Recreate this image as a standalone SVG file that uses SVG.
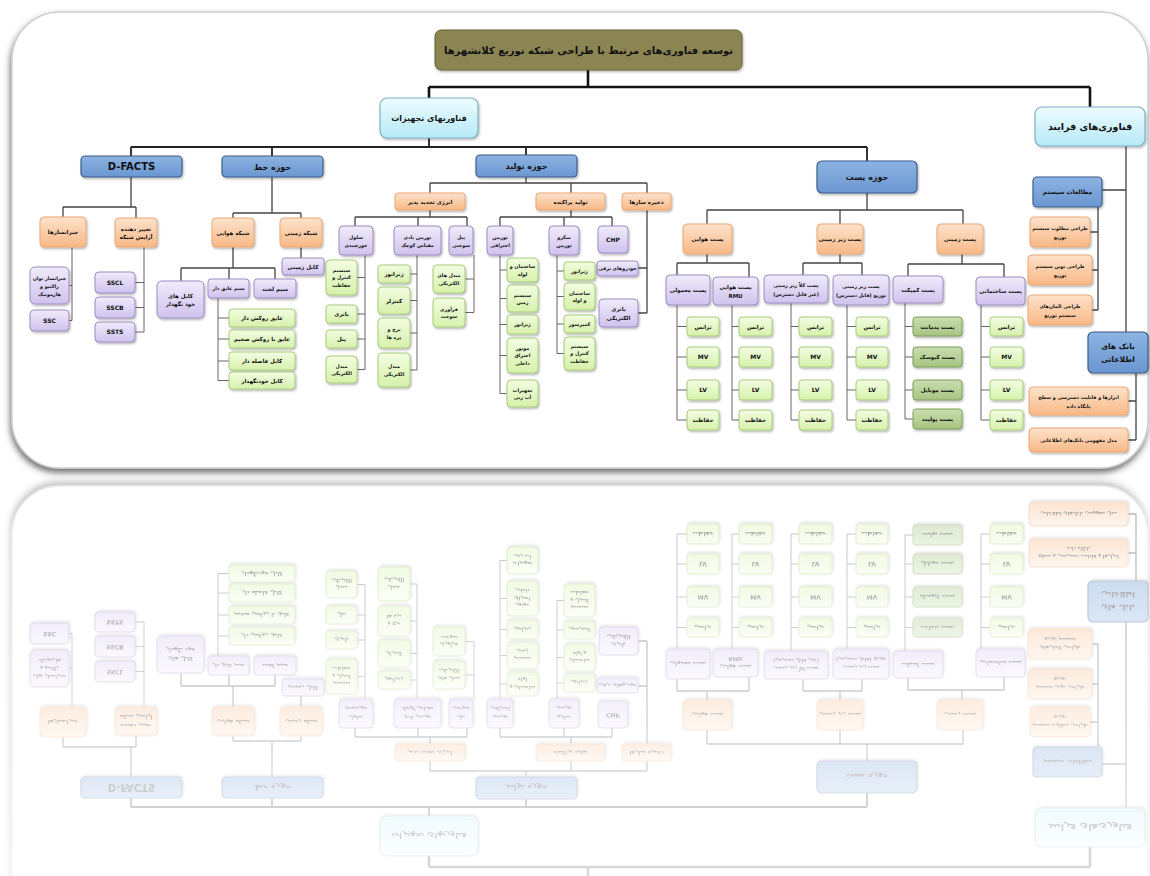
<svg xmlns="http://www.w3.org/2000/svg" xmlns:xlink="http://www.w3.org/1999/xlink" width="1150" height="876" viewBox="0 0 1150 876">
<style>
text{font-family:"DejaVu Sans","Noto Sans",sans-serif;font-weight:bold;text-anchor:middle;fill:#111}
.f13{font-size:10px}.f11{font-size:8px}.f95{font-size:9.5px}.f10{font-size:8px}.fd{font-size:10px}.f8{font-size:7.5px}.f7{font-size:6px}.f6{font-size:5.5px}.f5{font-size:4.8px}
.ti{fill:#8b8452;stroke:#6b6538;stroke-width:1}
.cy{fill:url(#gCy);stroke:#7fb2c4;stroke-width:1.2}
.bl{fill:url(#gBl);stroke:#3d5f8c;stroke-width:1.2}
.or{fill:url(#gOr);stroke:#eba877;stroke-width:1}
.pu{fill:url(#gPu);stroke:#9d8ec4;stroke-width:1}
.gr{fill:url(#gGr);stroke:#a9cd7c;stroke-width:1}
.dg{fill:url(#gDg);stroke:#7f9e5c;stroke-width:1}
.bx{filter:url(#sh)}
.k1{stroke:#111;stroke-width:2.6;fill:none}
.k2{stroke:#222;stroke-width:1.8;fill:none}
.k3{stroke:#444;stroke-width:1.3;fill:none}
.k4{stroke:#666;stroke-width:1;fill:none}
</style>
<defs>
<linearGradient id="gCy" x1="0" y1="0" x2="0" y2="1"><stop offset="0" stop-color="#eefcff"/><stop offset="1" stop-color="#b5e9f6"/></linearGradient>
<linearGradient id="gBl" x1="0" y1="0" x2="0" y2="1"><stop offset="0" stop-color="#8db3e2"/><stop offset="1" stop-color="#6a96d0"/></linearGradient>
<linearGradient id="gOr" x1="0" y1="0" x2="0" y2="1"><stop offset="0" stop-color="#fde2cb"/><stop offset="1" stop-color="#f8b886"/></linearGradient>
<linearGradient id="gPu" x1="0" y1="0" x2="0" y2="1"><stop offset="0" stop-color="#f0ebfb"/><stop offset="1" stop-color="#cfc2ee"/></linearGradient>
<linearGradient id="gGr" x1="0" y1="0" x2="0" y2="1"><stop offset="0" stop-color="#f3fde2"/><stop offset="1" stop-color="#d6f1ab"/></linearGradient>
<linearGradient id="gDg" x1="0" y1="0" x2="0" y2="1"><stop offset="0" stop-color="#c9deb0"/><stop offset="1" stop-color="#a7c481"/></linearGradient>
<linearGradient id="gFade" gradientUnits="userSpaceOnUse" x1="0" y1="480" x2="0" y2="876"><stop offset="0" stop-color="#fff" stop-opacity="0.4"/><stop offset="1" stop-color="#fff" stop-opacity="0.16"/></linearGradient>
<mask id="fade" maskUnits="userSpaceOnUse" x="0" y="470" width="1150" height="406"><rect x="0" y="470" width="1150" height="406" fill="url(#gFade)"/></mask>
<filter id="sh" x="-20%" y="-20%" width="140%" height="150%"><feDropShadow dx="1" dy="1.5" stdDeviation="1" flood-color="#000" flood-opacity="0.3"/></filter>
<filter id="csh" x="-5%" y="-5%" width="110%" height="115%"><feDropShadow dx="-1" dy="4" stdDeviation="3" flood-color="#333" flood-opacity="0.7"/></filter>
</defs>
<rect width="1150" height="876" fill="#fff"/>
<g id="scene">
<rect id="card" x="12" y="12" width="1136" height="456" rx="48" fill="#fff" stroke="#cfcfcf" stroke-width="1.5" filter="url(#csh)"/>
<g id="connectors">
<path class="k1" d="M588,70V87M429,87H1090M429,87V98M1090,87V107"/>
<path class="k2" d="M429,138V147M131,147H867M131,147V156M272,147V156M526,147V155M867,147V161"/>
<path class="k3" d="M1126,146V332M1102,190H1126M1136,373V440M1128,401H1136M1128,440H1136M1098,207V310M1090,232H1098M1092,270H1098M1092,310H1098"/>
<path class="k3" d="M867,193V210M707,210H963M707,210V224M840,210V224M963,210V224M707,254V263M677,263H749M677,263V275M749,263V277M840,254V263M803,263H862M803,263V275M862,263V275M962,254V264M908,264H1004M908,264V276M1004,264V277"/>
<path class="k4" d="M677,305V420M677,326.5H687M677,357H687M677,390H687M677,420H687M732,305V420M732,326.5H739M732,357H739M732,390H739M732,420H739M791,303V420M791,326.5H799M791,357H799M791,390H799M791,420H799M847,305V420M847,326.5H856M847,357H856M847,390H856M847,420H856M905,303V419M905,326.5H913M905,357H913M905,390H913M905,419H913M981,305V420M981,326.5H990M981,357H990M981,390H990M981,420H990"/>
<path class="k3" d="M526,177V183M430,183H647M430,183V193M571,183V193M647,183V193M430,210V217M355,217H467M355,217V226M418,217V226M467,217V226M571,210V217M500,217H612M500,217V226M564,217V226M612,217V226M647,210V313M638,268H647M638,313H647"/>
<path class="k4" d="M365,255V369.5M357,277.5H365M357,314H365M357,339H365M357,369.5H365M417,255V370M410,274H417M410,300.5H417M410,333H417M410,370H417M474,255V312.5M465,279H474M465,312.5H474M500,255V393.5M500,270H507M500,298.5H507M500,324.5H507M500,355.5H507M500,393.5H507M557,255V353.5M557,271H564M557,296.5H564M557,324H564M557,353.5H564"/>
<path class="k3" d="M272,177V213M233,213H301M233,213V218M301,213V218M301,247V258M233,247V268M181,268H275M181,268V281M229,268V279M275,268V279M131,177V207M63,207H136M63,207V217M136,207V218"/>
<path class="k4" d="M218,298V380.5M218,318H229M218,339H229M218,361H229M218,380.5H229M72,247V320.5M69,285.5H72M69,320.5H72M144,247V332M135,282.5H144M135,307.5H144M135,332H144"/>
</g>
<g id="n-title"><rect class="ti bx" x="435" y="30" width="307" height="40" rx="6"/><text class="f13" x="588.5" y="53.5">توسعه فناوری‌های مرتبط با طراحی شبکه توزیع کلانشهرها</text></g>
<g id="n-tajhizat"><rect class="cy bx" x="380" y="98" width="98" height="40" rx="7"/><text class="f11" x="429" y="121">فناوریهای تجهیزات</text></g>
<g id="n-farayand"><rect class="cy bx" x="1035" y="107" width="110" height="39" rx="7"/><text class="f95" x="1090" y="130">فناوری‌های فرایند</text></g>
<g id="n-dfacts"><rect class="bl bx" x="81" y="156" width="101" height="21" rx="4"/><text class="fd" x="131.5" y="170">D-FACTS</text></g>
<g id="n-khat"><rect class="bl bx" x="222" y="156" width="101" height="21" rx="4"/><text class="f10" x="272.5" y="169.5">حوزه خط</text></g>
<g id="n-tolid"><rect class="bl bx" x="476" y="155" width="101" height="22" rx="4"/><text class="f10" x="526.5" y="169">حوزه تولید</text></g>
<g id="n-post"><rect class="bl bx" x="817" y="161" width="100" height="32" rx="5"/><text class="f10" x="867" y="180">حوزه پست</text></g>
<g id="n-motaleat"><rect class="bl bx" x="1033" y="177" width="69" height="30" rx="4"/><text class="f7" x="1067.5" y="194">مطالعات سیستم</text></g>
<g id="n-bank"><rect class="bl bx" x="1088" y="332" width="60" height="41" rx="5"/><text class="f8"><tspan x="1118" y="349">بانک های</tspan><tspan x="1118" y="362">اطلاعاتی</tspan></text></g>
<g id="n-t1"><rect class="or bx" x="1030" y="217" width="60" height="30" rx="4"/><text class="f5"><tspan x="1060" y="230">طراحی مطلوب سیستم</tspan><tspan x="1060" y="238.5">توزیع</tspan></text></g>
<g id="n-t2"><rect class="or bx" x="1028" y="255" width="64" height="30" rx="4"/><text class="f5"><tspan x="1060" y="268">طراحی نوین سیستم</tspan><tspan x="1060" y="276.5">توزیع</tspan></text></g>
<g id="n-t3"><rect class="or bx" x="1028" y="295" width="64" height="30" rx="4"/><text class="f5"><tspan x="1060" y="308">طراحی المان‌های</tspan><tspan x="1060" y="316.5">سیستم توزیع</tspan></text></g>
<g id="n-db1"><rect class="or bx" x="1029" y="387" width="99" height="28" rx="4"/><text class="f5"><tspan x="1078.5" y="399">ابزارها و قابلیت دسترسی و سطح</tspan><tspan x="1078.5" y="407.5">پایگاه داده</tspan></text></g>
<g id="n-db2"><rect class="or bx" x="1029" y="428" width="99" height="24" rx="4"/><text class="f5" x="1078.5" y="441.8">مدل مفهومی بانک‌های اطلاعاتی</text></g>
<g id="n-havaei"><rect class="or bx" x="683" y="224" width="49" height="30" rx="4"/><text class="f6" x="707.5" y="241">پست هوایی</text></g>
<g id="n-zirzamini"><rect class="or bx" x="817" y="224" width="46" height="30" rx="4"/><text class="f6" x="840" y="241">پست زیر زمینی</text></g>
<g id="n-zamini"><rect class="or bx" x="937" y="224" width="46" height="30" rx="4"/><text class="f6" x="960" y="241">پست زمینی</text></g>
<g id="n-energy"><rect class="or bx" x="395" y="193" width="70" height="17" rx="3"/><text class="f6" x="430" y="203.5">انرژی تجدید پذیر</text></g>
<g id="n-parakande"><rect class="or bx" x="536" y="193" width="69" height="17" rx="3"/><text class="f6" x="570.5" y="203.5">تولید پراکنده</text></g>
<g id="n-zakhire"><rect class="or bx" x="622" y="193" width="49" height="17" rx="3"/><text class="f6" x="646.5" y="203.5">ذخیره سازها</text></g>
<g id="n-shhavaei"><rect class="or bx" x="212" y="218" width="42" height="29" rx="4"/><text class="f6" x="233" y="234.5">شبکه هوایی</text></g>
<g id="n-shzamini"><rect class="or bx" x="280" y="218" width="42" height="29" rx="4"/><text class="f6" x="301" y="234.5">شبکه زمینی</text></g>
<g id="n-jobran"><rect class="or bx" x="40" y="217" width="46" height="30" rx="4"/><text class="f6" x="63" y="234">جبرانسازها</text></g>
<g id="n-taghyir"><rect class="or bx" x="115" y="218" width="42" height="29" rx="4"/><text class="f6"><tspan x="136" y="230.5">تغییر دهنده</tspan><tspan x="136" y="239">آرایش شبکه</tspan></text></g>
<g id="n-mamooli"><rect class="pu bx" x="666" y="275" width="44" height="30" rx="4"/><text class="f6" x="688" y="292">پست معمولی</text></g>
<g id="n-rmu"><rect class="pu bx" x="713" y="277" width="45" height="28" rx="4"/><text class="f6"><tspan x="735.5" y="289">پست هوایی</tspan><tspan x="735.5" y="297.5">RMU</tspan></text></g>
<g id="n-kollan"><rect class="pu bx" x="764" y="275" width="64" height="28" rx="4"/><text class="f5"><tspan x="796" y="287">پست کلاً زیر زمینی</tspan><tspan x="796" y="295.5">(غیر قابل دسترس)</tspan></text></g>
<g id="n-tozi"><rect class="pu bx" x="833" y="275" width="56" height="30" rx="4"/><text class="f5"><tspan x="861" y="288">پست زیر زمینی</tspan><tspan x="861" y="296.5">توزیع (قابل دسترس)</tspan></text></g>
<g id="n-compact"><rect class="pu bx" x="893" y="276" width="50" height="27" rx="4"/><text class="f6" x="918" y="291.5">پست کمپکت</text></g>
<g id="n-sakhtemani"><rect class="pu bx" x="976" y="277" width="49" height="28" rx="4"/><text class="f6" x="1000.5" y="293">پست ساختمانی</text></g>
<g id="n-solar"><rect class="pu bx" x="339" y="226" width="34" height="29" rx="4"/><text class="f5"><tspan x="356" y="238.5">سلول</tspan><tspan x="356" y="247">خورشیدی</tspan></text></g>
<g id="n-wind"><rect class="pu bx" x="394" y="226" width="47" height="29" rx="4"/><text class="f5"><tspan x="417.5" y="238.5">توربین بادی</tspan><tspan x="417.5" y="247">مقیاس کوچک</tspan></text></g>
<g id="n-fuel"><rect class="pu bx" x="449" y="226" width="24" height="29" rx="4"/><text class="f5"><tspan x="461" y="238.5">پیل</tspan><tspan x="461" y="247">سوختی</tspan></text></g>
<g id="n-ehtaraghi"><rect class="pu bx" x="487" y="226" width="26" height="29" rx="4"/><text class="f5"><tspan x="500" y="238.5">توربین</tspan><tspan x="500" y="247">احتراقی</tspan></text></g>
<g id="n-micro"><rect class="pu bx" x="549" y="226" width="30" height="29" rx="4"/><text class="f5"><tspan x="564" y="238.5">میکرو</tspan><tspan x="564" y="247">توربین</tspan></text></g>
<g id="n-chp"><rect class="pu bx" x="598" y="226" width="30" height="27" rx="4"/><text class="f7" x="613" y="241.5">CHP</text></g>
<g id="n-khodro"><rect class="pu bx" x="597" y="261" width="41" height="15" rx="3"/><text class="f5" x="617.5" y="270.3">خودروهای برقی</text></g>
<g id="n-battery"><rect class="pu bx" x="599" y="299" width="39" height="28" rx="4"/><text class="f6"><tspan x="618.5" y="311">باتری</tspan><tspan x="618.5" y="319.5">الکتریکی</tspan></text></g>
<g id="n-kabzamini"><rect class="pu bx" x="282" y="258" width="42" height="17" rx="3"/><text class="f6" x="303" y="268.5">کابل زمینی</text></g>
<g id="n-khodnegah"><rect class="pu bx" x="157" y="281" width="47" height="37" rx="5"/><text class="f6"><tspan x="180.5" y="297.5">کابل های</tspan><tspan x="180.5" y="306">خود نگهدار</tspan></text></g>
<g id="n-ayegh"><rect class="pu bx" x="208" y="279" width="41" height="19" rx="3"/><text class="f5" x="228.5" y="290.3">سیم عایق دار</text></g>
<g id="n-lokht"><rect class="pu bx" x="254" y="279" width="42" height="19" rx="3"/><text class="f6" x="275" y="290.5">سیم لخت</text></g>
<g id="n-jtavan"><rect class="pu bx" x="30" y="267" width="39" height="37" rx="5"/><text class="f5"><tspan x="49.5" y="279.5">جبرانساز توان</tspan><tspan x="49.5" y="287.5">راکتیو و</tspan><tspan x="49.5" y="295.5">هارمونیک</tspan></text></g>
<g id="n-ssc"><rect class="pu bx" x="30" y="310" width="39" height="21" rx="4"/><text class="f7" x="49.5" y="322.5">SSC</text></g>
<g id="n-sscl"><rect class="pu bx" x="95" y="272" width="40" height="21" rx="4"/><text class="f7" x="115" y="284.5">SSCL</text></g>
<g id="n-sscb"><rect class="pu bx" x="95" y="297" width="40" height="21" rx="4"/><text class="f7" x="115" y="309.5">SSCB</text></g>
<g id="n-ssts"><rect class="pu bx" x="95" y="322" width="40" height="20" rx="4"/><text class="f7" x="115" y="334">SSTS</text></g>
<g id="n-pa1"><rect class="gr bx" x="687" y="317" width="32" height="19" rx="3"/><text class="f6" x="703" y="328.5">ترانس</text></g>
<g id="n-pa2"><rect class="gr bx" x="687" y="347" width="32" height="20" rx="3"/><text class="f7" x="703" y="359">MV</text></g>
<g id="n-pa3"><rect class="gr bx" x="687" y="380" width="32" height="20" rx="3"/><text class="f7" x="703" y="392">LV</text></g>
<g id="n-pa4"><rect class="gr bx" x="687" y="410" width="32" height="20" rx="3"/><text class="f6" x="703" y="422">حفاظت</text></g>
<g id="n-pb1"><rect class="gr bx" x="739" y="317" width="33" height="19" rx="3"/><text class="f6" x="755.5" y="328.5">ترانس</text></g>
<g id="n-pb2"><rect class="gr bx" x="739" y="347" width="33" height="20" rx="3"/><text class="f7" x="755.5" y="359">MV</text></g>
<g id="n-pb3"><rect class="gr bx" x="739" y="380" width="33" height="20" rx="3"/><text class="f7" x="755.5" y="392">LV</text></g>
<g id="n-pb4"><rect class="gr bx" x="739" y="410" width="33" height="20" rx="3"/><text class="f6" x="755.5" y="422">حفاظت</text></g>
<g id="n-pc1"><rect class="gr bx" x="799" y="317" width="33" height="19" rx="3"/><text class="f6" x="815.5" y="328.5">ترانس</text></g>
<g id="n-pc2"><rect class="gr bx" x="799" y="347" width="33" height="20" rx="3"/><text class="f7" x="815.5" y="359">MV</text></g>
<g id="n-pc3"><rect class="gr bx" x="799" y="380" width="33" height="20" rx="3"/><text class="f7" x="815.5" y="392">LV</text></g>
<g id="n-pc4"><rect class="gr bx" x="799" y="410" width="33" height="20" rx="3"/><text class="f6" x="815.5" y="422">حفاظت</text></g>
<g id="n-pd1"><rect class="gr bx" x="856" y="317" width="32" height="19" rx="3"/><text class="f6" x="872" y="328.5">ترانس</text></g>
<g id="n-pd2"><rect class="gr bx" x="856" y="347" width="32" height="20" rx="3"/><text class="f7" x="872" y="359">MV</text></g>
<g id="n-pd3"><rect class="gr bx" x="856" y="380" width="32" height="20" rx="3"/><text class="f7" x="872" y="392">LV</text></g>
<g id="n-pd4"><rect class="gr bx" x="856" y="410" width="32" height="20" rx="3"/><text class="f6" x="872" y="422">حفاظت</text></g>
<g id="n-pe1"><rect class="dg bx" x="913" y="317" width="49" height="19" rx="3"/><text class="f6" x="937.5" y="328.5">پست پدمانت</text></g>
<g id="n-pe2"><rect class="dg bx" x="913" y="347" width="49" height="20" rx="3"/><text class="f6" x="937.5" y="359">پست کیوسک</text></g>
<g id="n-pe3"><rect class="dg bx" x="913" y="380" width="49" height="20" rx="3"/><text class="f6" x="937.5" y="392">پست موبایل</text></g>
<g id="n-pe4"><rect class="dg bx" x="913" y="409" width="49" height="20" rx="3"/><text class="f6" x="937.5" y="421">پست پولیت</text></g>
<g id="n-pf1"><rect class="gr bx" x="990" y="317" width="33" height="19" rx="3"/><text class="f6" x="1006.5" y="328.5">ترانس</text></g>
<g id="n-pf2"><rect class="gr bx" x="990" y="347" width="33" height="20" rx="3"/><text class="f7" x="1006.5" y="359">MV</text></g>
<g id="n-pf3"><rect class="gr bx" x="990" y="380" width="33" height="20" rx="3"/><text class="f7" x="1006.5" y="392">LV</text></g>
<g id="n-pf4"><rect class="gr bx" x="990" y="410" width="33" height="20" rx="3"/><text class="f6" x="1006.5" y="422">حفاظت</text></g>
<g id="n-sa1"><rect class="gr bx" x="326" y="260" width="31" height="35" rx="4"/><text class="f5"><tspan x="341.5" y="271.8">سیستم</tspan><tspan x="341.5" y="279.3">کنترل و</tspan><tspan x="341.5" y="286.8">حفاظت</tspan></text></g>
<g id="n-sa2"><rect class="gr bx" x="326" y="305" width="31" height="18" rx="3"/><text class="f6" x="341.5" y="316">باتری</text></g>
<g id="n-sa3"><rect class="gr bx" x="326" y="330" width="31" height="18" rx="3"/><text class="f6" x="341.5" y="341">پنل</text></g>
<g id="n-sa4"><rect class="gr bx" x="326" y="356" width="31" height="27" rx="4"/><text class="f5"><tspan x="341.5" y="367.8">مبدل</tspan><tspan x="341.5" y="375.3">الکتریکی</tspan></text></g>
<g id="n-wa1"><rect class="gr bx" x="378" y="265" width="32" height="18" rx="3"/><text class="f6" x="394" y="276">ژنراتور</text></g>
<g id="n-wa2"><rect class="gr bx" x="378" y="287" width="32" height="27" rx="4"/><text class="f6" x="394" y="302.5">کنترلر</text></g>
<g id="n-wa3"><rect class="gr bx" x="378" y="318" width="32" height="30" rx="4"/><text class="f5"><tspan x="394" y="331.3">برج و</tspan><tspan x="394" y="338.8">پره ها</tspan></text></g>
<g id="n-wa4"><rect class="gr bx" x="378" y="353" width="32" height="34" rx="4"/><text class="f5"><tspan x="394" y="368.3">مبدل</tspan><tspan x="394" y="375.8">الکتریکی</tspan></text></g>
<g id="n-fa1"><rect class="gr bx" x="433" y="265" width="32" height="28" rx="4"/><text class="f5"><tspan x="449" y="277.3">مبدل های</tspan><tspan x="449" y="284.8">الکتریکی</tspan></text></g>
<g id="n-fa2"><rect class="gr bx" x="433" y="298" width="32" height="29" rx="4"/><text class="f5"><tspan x="449" y="310.8">فرآوری</tspan><tspan x="449" y="318.3">سوخت</tspan></text></g>
<g id="n-ea1"><rect class="gr bx" x="507" y="258" width="31" height="24" rx="4"/><text class="f5"><tspan x="522.5" y="268.3">ساختمان و</tspan><tspan x="522.5" y="275.8">لوله</tspan></text></g>
<g id="n-ea2"><rect class="gr bx" x="507" y="285" width="31" height="27" rx="4"/><text class="f5"><tspan x="522.5" y="296.8">سیستم</tspan><tspan x="522.5" y="304.3">زمین</tspan></text></g>
<g id="n-ea3"><rect class="gr bx" x="507" y="315" width="31" height="19" rx="3"/><text class="f5" x="522.5" y="326.2">ژنراتور</text></g>
<g id="n-ea4"><rect class="gr bx" x="507" y="338" width="31" height="35" rx="4"/><text class="f5"><tspan x="522.5" y="349.8">موتور</tspan><tspan x="522.5" y="357.3">احتراق</tspan><tspan x="522.5" y="364.8">داخلی</tspan></text></g>
<g id="n-ea5"><rect class="gr bx" x="507" y="380" width="31" height="27" rx="4"/><text class="f5"><tspan x="522.5" y="391.8">تجهیزات</tspan><tspan x="522.5" y="399.3">آب زنی</tspan></text></g>
<g id="n-ma1"><rect class="gr bx" x="564" y="262" width="31" height="18" rx="3"/><text class="f5" x="579.5" y="272.7">ژنراتور</text></g>
<g id="n-ma2"><rect class="gr bx" x="564" y="283" width="31" height="27" rx="4"/><text class="f5"><tspan x="579.5" y="294.8">ساختمان</tspan><tspan x="579.5" y="302.3">و لوله</tspan></text></g>
<g id="n-ma3"><rect class="gr bx" x="564" y="315" width="31" height="18" rx="3"/><text class="f5" x="579.5" y="325.7">کمپرسور</text></g>
<g id="n-ma4"><rect class="gr bx" x="564" y="337" width="31" height="33" rx="4"/><text class="f5"><tspan x="579.5" y="347.8">سیستم</tspan><tspan x="579.5" y="355.3">کنترل و</tspan><tspan x="579.5" y="362.8">حفاظت</tspan></text></g>
<g id="n-ka1"><rect class="gr bx" x="229" y="309" width="66" height="18" rx="3"/><text class="f6" x="262" y="320">عایق روکش دار</text></g>
<g id="n-ka2"><rect class="gr bx" x="229" y="330" width="66" height="18" rx="3"/><text class="f6" x="262" y="341">عایق با روکش ضخیم</text></g>
<g id="n-ka3"><rect class="gr bx" x="229" y="352" width="66" height="18" rx="3"/><text class="f6" x="262" y="363">کابل فاصله دار</text></g>
<g id="n-ka4"><rect class="gr bx" x="229" y="372" width="66" height="17" rx="3"/><text class="f6" x="262" y="382.5">کابل خودنگهدار</text></g>
</g>
<g id="reflection" mask="url(#fade)">
<use xlink:href="#scene" href="#scene" transform="matrix(1 0 0 -1 0 954)"/>
</g>
</svg>
